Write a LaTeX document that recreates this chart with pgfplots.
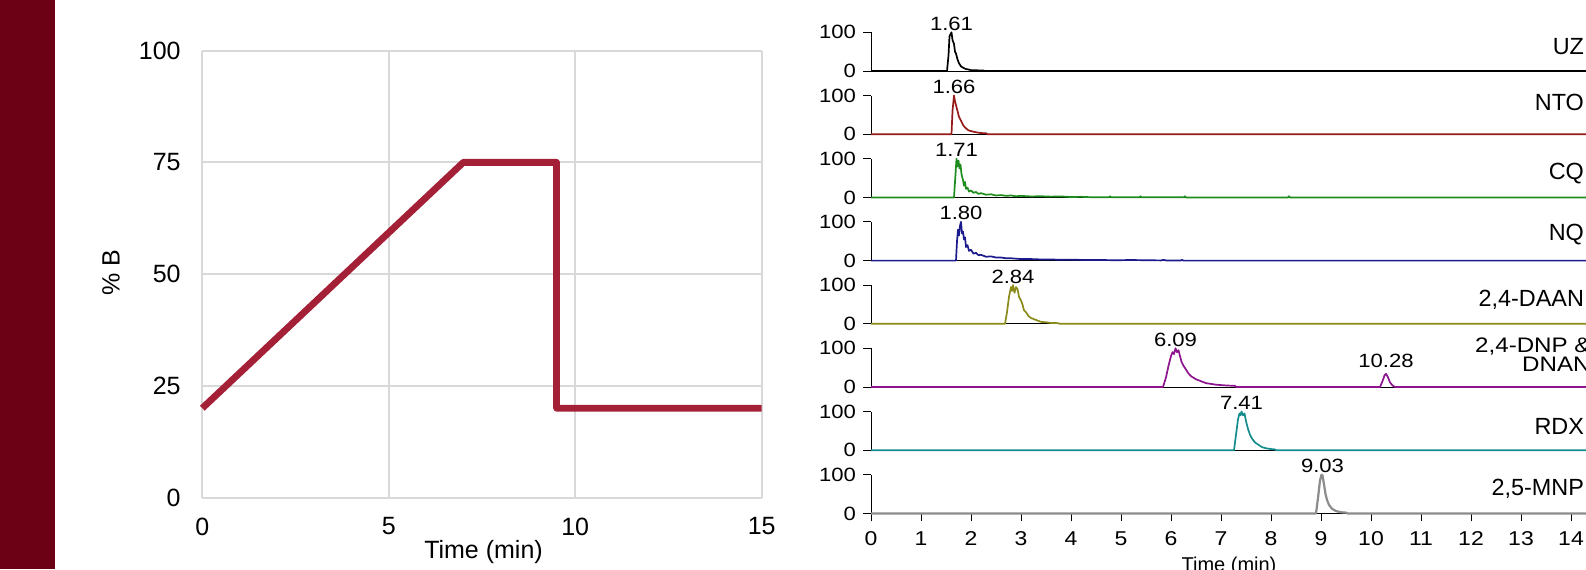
\documentclass[border=0pt]{standalone}
\usepackage{pgfplots}
\pgfplotsset{compat=1.18}
\usepackage{fontspec}
\setmainfont{Liberation Sans}
\usepackage{graphicx}

\definecolor{strip}{HTML}{6C0014}
\definecolor{ramp}{HTML}{A32036}
\definecolor{gridgray}{HTML}{D9D9D9}
\definecolor{cNTO}{HTML}{961A1A}
\definecolor{cCQ}{HTML}{1E8C1E}
\definecolor{cNQ}{HTML}{1A1A8C}
\definecolor{cDAAN}{HTML}{8B8B1A}
\definecolor{cDNP}{HTML}{8C148C}
\definecolor{cRDX}{HTML}{148C8C}
\definecolor{cMNP}{HTML}{8C8C8C}

% right hand figure: numbers a bit stretched sideways
\newcommand\rfont{\fontsize{9.6}{10}\selectfont}
\newcommand\nfont{\fontsize{11.7}{12}\selectfont}
\newcommand\wide[1]{\scalebox{1.15}[1]{#1}}

\tikzset{peak/.style={font=\rfont, anchor=base, yshift=1pt}}

\pgfplotsset{
  /pgf/number format/assume math mode=true,
  panel/.style={
    at={(435.5pt,#1)}, anchor=south west, scale only axis,
    width=375pt, height=19.35pt,
    xmin=0, xmax=15, ymin=0, ymax=100,
    clip=false,
    axis x line=bottom, axis y line=left,
    axis line style={-, line width=0.5pt, black},
    ytick={0,100}, yticklabel={\wide{\pgfmathprintnumber{\tick}}},
    xtick=\empty, tick align=outside, major tick length=4pt,
    tick style={black, line width=0.5pt},
    tick label style={font=\rfont},
  },
  trace/.style={line width=0.85pt, color=#1, line join=round},
}

\begin{document}
\begin{tikzpicture}
\useasboundingbox (0,0) rectangle (793pt,-284.5pt);
\clip (0,0) rectangle (793pt,-284.5pt);
\fill[strip] (0,0) rectangle (27.5pt,-284.5pt);

% gradient programme
\begin{axis}[
  at={(101.15pt,-248.8pt)}, anchor=south west, scale only axis,
  width=279.7pt, height=223.5pt,
  xmin=0, xmax=15, ymin=0, ymax=100,
  xtick={0,5,10,15}, ytick={0,25,50,75,100},
  grid=major, grid style={gridgray, line width=1pt},
  axis line style={draw=none}, major tick length=0pt,
  tick label style={font=\fontsize{12.5}{14}\selectfont},
  xticklabel style={yshift=-6.5pt},
  yticklabel style={xshift=-7.3pt},
  clip=false,
]
\addplot[ramp, line width=3.4pt, line join=round] coordinates {
  (0,20)(7,75)(9.5,75)(9.5,20)(15,20)
};
\end{axis}
\node[font=\fontsize{12.5}{14}\selectfont, anchor=base] at (241.75pt,-279pt) {Time (min)};
\node[font=\fontsize{12.5}{14}\selectfont, rotate=90] at (55.5pt,-136.5pt) {\% B};

% chromatograms
\begin{axis}[panel=-35.5pt]
\addplot[trace=black] coordinates {
  (0,0)(1.52,0)(1.55,40)(1.57,90)(1.61,100)(1.63,80)(1.66,70)(1.68,50)(1.70,45)
  (1.73,30)(1.76,20)(1.80,12)(1.85,8)(1.90,5)(1.95,4)(2.0,2)(2.1,2)(2.2,1)
  (2.25,1.5)(2.27,0)(15,0)
};
\node[peak] at (axis cs:1.61,100) {\wide{1.61}};
\end{axis}

\begin{axis}[panel=-67.1pt]
\addplot[trace=cNTO] coordinates {
  (0,0)(1.61,0)(1.63,60)(1.66,100)(1.68,85)(1.70,75)(1.73,60)(1.76,45)(1.80,35)
  (1.85,22)(1.90,15)(1.95,10)(2.0,8)(2.1,5)(2.2,3)(2.3,2.5)(2.33,0)(15,0)
};
\node[peak] at (axis cs:1.66,100) {\wide{1.66}};
\end{axis}

\begin{axis}[panel=-98.7pt]
\addplot[trace=cCQ] coordinates {
  (0,0)(1.66,0)(1.69,60)(1.71,100)(1.73,80)(1.75,95)(1.77,75)(1.79,85)(1.81,60)
  (1.84,45)(1.86,30)(1.88,40)(1.90,22)(1.93,25)(1.96,15)(2.0,18)(2.05,12)
  (2.1,14)(2.15,9)(2.2,11)(2.3,7)(2.4,8)(2.5,5)(2.6,6)(2.7,4)(2.8,5)(2.9,3)
  (3.0,4)(3.2,2.5)(3.4,3)(3.6,2)(3.8,2.5)(4.0,1)(4.2,1.5)(4.4,0.5)(4.76,0.5)
  (4.78,3)(4.80,0.5)(5.37,0.3)(5.39,3)(5.41,0.3)(6.0,0.3)(6.26,0.3)(6.28,3)
  (6.30,0)(8.34,0)(8.36,3)(8.38,0)(15,0)
};
\node[peak] at (axis cs:1.71,100) {\wide{1.71}};
\end{axis}

\begin{axis}[panel=-130.3pt]
\addplot[trace=cNQ] coordinates {
  (0,0)(1.70,0)(1.72,50)(1.74,80)(1.76,65)(1.78,90)(1.80,100)(1.82,70)(1.84,75)
  (1.86,55)(1.88,60)(1.90,35)(1.93,40)(1.96,25)(2.0,28)(2.05,18)(2.1,20)
  (2.15,14)(2.2,15)(2.3,10)(2.4,11)(2.5,8)(2.6,8)(2.7,6)(2.8,6)(3.0,4)(3.2,4)
  (3.4,3)(3.6,3)(3.8,2)(4.0,2.5)(4.3,1.5)(4.6,1.5)(4.9,1)(5.2,1.5)(5.5,1)
  (5.8,0.5)(5.85,2)(5.9,0.5)(6.2,0.5)(6.22,2)(6.25,0)(15,0)
};
\node[peak] at (axis cs:1.80,100) {\wide{1.80}};
\end{axis}

\begin{axis}[panel=-161.9pt]
\addplot[trace=cDAAN] coordinates {
  (0,0)(2.68,0)(2.72,30)(2.76,70)(2.80,95)(2.82,85)(2.84,100)(2.87,80)(2.90,95)
  (2.93,90)(2.96,70)(3.00,60)(3.03,50)(3.06,35)(3.10,30)(3.15,20)(3.2,15)
  (3.3,10)(3.4,5)(3.5,4)(3.6,2)(3.7,2)(3.75,1.5)(3.77,0)(15,0)
};
\node[peak] at (axis cs:2.84,100) {\wide{2.84}};
\end{axis}

\begin{axis}[panel=-193.5pt]
\addplot[trace=cDNP] coordinates {
  (0,0)(5.84,0)(5.90,25)(5.95,55)(6.00,80)(6.03,90)(6.06,85)(6.09,100)(6.12,90)
  (6.15,95)(6.18,80)(6.21,65)(6.25,55)(6.30,45)(6.35,35)(6.40,28)(6.50,20)
  (6.60,15)(6.70,10)(6.80,8)(6.90,6)(7.00,5)(7.10,4)(7.28,3)(7.30,0)
  (10.18,0)(10.23,15)(10.27,30)(10.30,34)(10.34,25)(10.38,12)(10.43,4)
  (10.48,0)(15,0)
};
\node[peak] at (axis cs:6.09,100) {\wide{6.09}};
\node[peak, yshift=2pt] at (axis cs:10.30,34) {\wide{10.28}};
\end{axis}

\begin{axis}[panel=-225.1pt]
\addplot[trace=cRDX] coordinates {
  (0,0)(7.26,0)(7.30,40)(7.34,80)(7.37,95)(7.39,90)(7.41,100)(7.44,90)(7.47,95)
  (7.50,75)(7.54,55)(7.58,40)(7.62,30)(7.68,20)(7.75,14)(7.82,8)(7.90,5)
  (8.0,3)(8.08,2)(8.10,0)(15,0)
};
\node[peak] at (axis cs:7.41,100) {\wide{7.41}};
\end{axis}

\begin{axis}[panel=-256.7pt,
  xtick={0,1,...,15}, xticklabel={\wide{\pgfmathprintnumber{\tick}}},
  xticklabel style={font=\fontsize{10}{12}\selectfont, yshift=-1.5pt}]
\addplot[trace=cMNP, line width=1.1pt] coordinates {
  (0,0)(8.90,0)(8.94,40)(8.98,85)(9.01,100)(9.03,98)(9.06,75)(9.09,50)(9.12,35)
  (9.16,22)(9.22,12)(9.30,6)(9.40,3)(9.50,2)(9.53,0)(15,0)
};
\node[peak] at (axis cs:9.03,100) {\wide{9.03}};
\end{axis}

% trace names, running off the right edge as in the source
\begin{scope}[every node/.style={font=\nfont, anchor=base east}]
\node at (795.5pt,-27.2pt) {UZ};
\node at (795.5pt,-55.45pt) {NTO};
\node at (795.5pt,-89.55pt) {CQ};
\node at (795.5pt,-120.15pt) {NQ};
\node at (795.5pt,-153.1pt) {2,4-DAAN};
\node at (795.5pt,-217.15pt) {RDX};
\node at (795.5pt,-247.55pt) {2,5-MNP};
\end{scope}
% two-line name: smaller, a little wider, lines close together
\begin{scope}[every node/.style={font=\fontsize{10.5}{10.5}\selectfont, anchor=base east, inner sep=0pt}]
\node at (795.5pt,-176pt) {\scalebox{1.15}[1]{2,4-DNP \&}};
\node at (795.5pt,-185.6pt) {\scalebox{1.15}[1]{DNAN}};
\end{scope}
\node[font=\fontsize{10}{12}\selectfont, anchor=base] at (614.5pt,-285.5pt) {Time (min)};
\end{tikzpicture}
\end{document}
